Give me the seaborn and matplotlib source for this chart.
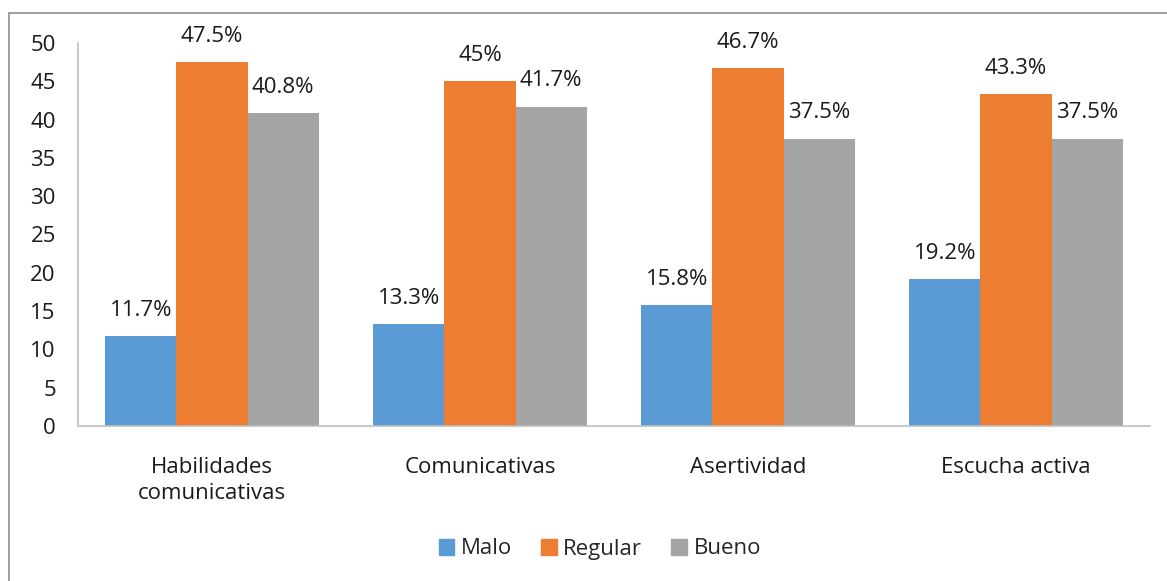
"""Grouped bar chart: habilidades comunicativas by level (Malo / Regular / Bueno)."""
import matplotlib
matplotlib.use("Agg")
import matplotlib.pyplot as plt
import matplotlib.patches as mpatches
import pandas as pd
import seaborn as sns

categories = ["Habilidades\ncomunicativas", "Comunicativas", "Asertividad", "Escucha activa"]
levels = ["Malo", "Regular", "Bueno"]
malo = [11.7, 13.3, 15.8, 19.2]
regular = [47.5, 45, 46.7, 43.3]
bueno = [40.8, 41.7, 37.5, 37.5]
yticks = [0, 5, 10, 15, 20, 25, 30, 35, 40, 45, 50]

colors = ["#5B9BD5", "#ED7D31", "#A5A5A5"]

df = pd.DataFrame({
    "categoria": categories * 3,
    "nivel": [l for l in levels for _ in categories],
    "valor": malo + regular + bueno,
})

sns.set_style("white")
plt.rcParams["font.family"] = ["Open Sans", "DejaVu Sans"]
FS = 16

fig = plt.figure(figsize=(11.67, 5.81), dpi=100)
ax = fig.add_axes([78 / 1167, 1 - 426 / 581, (1150 - 78) / 1167, (426 - 43) / 581])

sns.barplot(data=df, x="categoria", y="valor", hue="nivel", hue_order=levels,
            order=categories, palette=colors, width=0.795, saturation=1,
            edgecolor="none", ax=ax)

for cont in ax.containers:
    labels = [f"{v:g}%" for v in cont.datavalues]
    ax.bar_label(cont, labels=labels, padding=11, fontsize=FS, color="#1a1a1a")

ax.set_ylim(0, 50)
ax.set_yticks(yticks)
ax.set_xlim(-0.5, len(categories) - 0.5)
ax.set_xlabel("")
ax.set_ylabel("")
ax.tick_params(axis="y", labelsize=FS, length=0, pad=16, colors="#1a1a1a")
ax.tick_params(axis="x", labelsize=FS, length=0, pad=22, colors="#1a1a1a")
for lab in ax.get_xticklabels():
    lab.set_linespacing(1.35)
for s in ["top", "right"]:
    ax.spines[s].set_visible(False)
for s in ["left", "bottom"]:
    ax.spines[s].set_color("#BFBFBF")
    ax.spines[s].set_linewidth(1.2)

handles = [mpatches.Patch(color=c, label=l) for c, l in zip(colors, levels)]
ax.legend(handles=handles, loc="center", bbox_to_anchor=(0.514, 1 - 549 / 581),
          bbox_transform=fig.transFigure, ncol=3, frameon=False, fontsize=FS,
          handlelength=0.7, handleheight=0.7, handletextpad=0.3, columnspacing=1.3)

# outer chart frame (cropped on the right and bottom)
frame = mpatches.Rectangle((9 / 1167, -0.05), 1.2, 1 - 13 / 581 + 0.05,
                           transform=fig.transFigure, fill=False,
                           edgecolor="#8C8C8C", linewidth=1.2, clip_on=False)
fig.patches.append(frame)

fig.savefig("out.png", dpi=100)
